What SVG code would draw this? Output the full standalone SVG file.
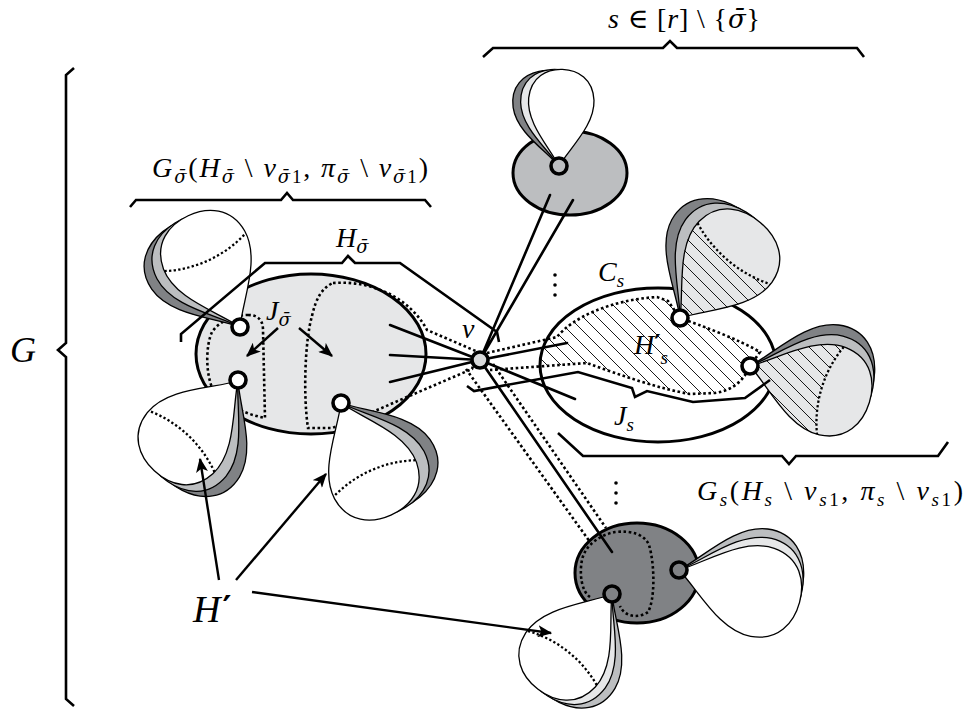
<svg xmlns="http://www.w3.org/2000/svg" width="970" height="717" viewBox="0 0 970 717">
<style>
.m{font-family:"Liberation Serif","DejaVu Serif",serif;font-style:italic;fill:#000}
.up{font-style:normal}
.sg{font-family:"DejaVu Serif",serif;font-style:italic}
.pr{font-family:"DejaVu Sans",sans-serif;font-style:normal;font-weight:bold}
.ell{stroke:#000;stroke-width:3}
.pet{stroke:#000;stroke-width:1.3}
.dot{fill:none;stroke:#000;stroke-width:2.6;stroke-dasharray:2.6 2.6}
.pdot{fill:none;stroke:#000;stroke-width:2.3;stroke-dasharray:2.3 2.3}
.edge{fill:none;stroke:#000;stroke-width:2.6;stroke-linecap:round}
.brace{fill:none;stroke:#000;stroke-width:2.6;stroke-linejoin:miter}
.vx{stroke:#000;stroke-width:3.6}
.arr{fill:none;stroke:#000;stroke-width:2.4;marker-end:url(#ah)}
.dk{fill:#808285}.md{fill:#bcbec0}.lt{fill:#e6e7e8}.wh{fill:#fff}
</style>
<defs>
<path id="lobe" vector-effect="non-scaling-stroke" d="M0,0 C20,-12 45,-40 72,-38 C95,-36 104,-18 104,0 C104,18 95,36 72,38 C45,40 20,12 0,0 Z"/>
<path id="lat" vector-effect="non-scaling-stroke" d="M70,-38 C60,-14 60,14 70,38"/>
<path id="near" d="M0,0 C20,-12 45,-40 70,-38 C60,-14 60,14 70,38 C45,40 20,12 0,0 Z"/>
<pattern id="hL" patternUnits="userSpaceOnUse" width="13" height="13"><path d="M0,13 L13,0 M-3,3 L3,-3 M10,16 L16,10" stroke="#000" stroke-width="0.9"/></pattern>
<pattern id="hR" patternUnits="userSpaceOnUse" width="14" height="14"><path d="M0,0 L14,14 M-3,11 L3,17 M11,-3 L17,3" stroke="#000" stroke-width="0.9"/></pattern>
<clipPath id="cRE"><ellipse cx="658" cy="365" rx="118" ry="77"/></clipPath>
<clipPath id="cE"><use href="#near" transform="translate(680,318) rotate(-50) scale(1.2,1.25)"/></clipPath>
<clipPath id="cF"><use href="#near" transform="translate(750,366) rotate(17) scale(1.2)"/></clipPath>
<marker id="ah" viewBox="0 0 12 10" refX="11" refY="5" markerWidth="6" markerHeight="5" orient="auto" markerUnits="strokeWidth"><path d="M0,0 L12,5 L0,10 L3,5 Z" fill="#000"/></marker>
</defs>
<rect width="970" height="717" fill="#fff"/>

<g id="ellipses">
  <g id="comp-left"><ellipse cx="311" cy="354" rx="115" ry="80" class="ell lt"/></g>
  <g id="comp-right"><ellipse cx="658" cy="365" rx="118" ry="77" class="ell wh"/></g>
  <g id="comp-top"><ellipse cx="570" cy="173" rx="57" ry="42" class="ell md"/></g>
  <g id="comp-bottom"><ellipse cx="637" cy="573" rx="62" ry="50" class="ell dk"/></g>
</g>

<g id="regions">
  <g id="J-sigma-left">
    <path d="M248,315 C258,315 263,320 263,330 L265,418 C245,414 225,405 213,390 C205,372 206,345 212,332 C220,320 236,315 248,315 Z" fill="url(#hL)" class="dot"/>
  </g>
  <g id="J-sigma-right">
    <path d="M333,283 C372,280 410,298 427,330 L478,352 L472,369 L400,400 L352,421 L332,428 L308,428 C303,395 305,340 312,316 C316,298 322,288 333,283 Z" fill="url(#hL)" class="dot"/>
  </g>
  <g id="H-prime-s">
    <path d="M487,353 L557,337 C572,318 610,300 657,297 L668,301 L680,318 C700,325 740,340 760,352 L750,366 C745,378 735,390 715,393 L690,394 C660,389 620,375 587,363 L490,370 Z" fill="url(#hR)" clip-path="url(#cRE)"/>
    <path d="M487,353 L557,337 C572,318 610,300 657,297 L668,301 L680,318 C700,325 740,340 760,352 L750,366 C745,378 735,390 715,393 L690,394 C660,389 620,375 587,363 L490,370" class="dot"/>
  </g>
  <g id="J-bottom">
    <path d="M590,597 C582,592 579,575 582,560 C585,545 600,535 615,532 C632,530 645,535 649,545 C655,565 655,600 648,612 C640,618 625,618 620,606" class="dot"/>
  </g>
</g>

<g id="petals">
  <g id="petal-a" transform="translate(240,327)">
    <use href="#lobe" class="pet dk" transform="rotate(-129) scale(1.18)"/>
    <use href="#lobe" class="pet md" transform="rotate(-122) scale(1.18)"/>
    <use href="#lobe" class="pet wh" transform="rotate(-115) scale(1.18)"/>
    <use href="#lat" class="pdot" transform="rotate(-115) scale(1.18)"/>
  </g>
  <g id="petal-b" transform="translate(238,381)">
    <use href="#lobe" class="pet dk" transform="rotate(117) scale(1.18)"/>
    <use href="#lobe" class="pet md" transform="rotate(125) scale(1.18)"/>
    <use href="#lobe" class="pet wh" transform="rotate(133) scale(1.18)"/>
    <use href="#lat" class="pdot" transform="rotate(133) scale(1.18)"/>
  </g>
  <g id="petal-c" transform="translate(341,403)">
    <use href="#lobe" class="pet dk" transform="rotate(50) scale(1.18)"/>
    <use href="#lobe" class="pet md" transform="rotate(58) scale(1.18)"/>
    <use href="#lobe" class="pet wh" transform="rotate(66) scale(1.18)"/>
    <use href="#lat" class="pdot" transform="rotate(66) scale(1.18)"/>
  </g>
  <g id="petal-d" transform="translate(559,166)">
    <use href="#lobe" class="pet dk" transform="rotate(-102) scale(0.93,0.86)"/>
    <use href="#lobe" class="pet lt" transform="rotate(-95) scale(0.93,0.86)"/>
    <use href="#lobe" class="pet wh" transform="rotate(-88) scale(0.93,0.86)"/>
  </g>
  <g id="petal-e">
    <g transform="translate(680,318)">
      <use href="#lobe" class="pet dk" transform="rotate(-66) scale(1.2,1.25)"/>
      <use href="#lobe" class="pet md" transform="rotate(-58) scale(1.2,1.25)"/>
      <use href="#lobe" class="pet lt" transform="rotate(-50) scale(1.2,1.25)"/>
    </g>
    <rect x="660" y="200" width="130" height="130" fill="url(#hR)" clip-path="url(#cE)"/>
    <use href="#lat" class="pdot" transform="translate(680,318) rotate(-50) scale(1.2,1.25)"/>
  </g>
  <g id="petal-f">
    <g transform="translate(750,366)">
      <use href="#lobe" class="pet dk" transform="rotate(3) scale(1.2)"/>
      <use href="#lobe" class="pet md" transform="rotate(10) scale(1.2)"/>
      <use href="#lobe" class="pet lt" transform="rotate(17) scale(1.2)"/>
    </g>
    <rect x="740" y="300" width="140" height="150" fill="url(#hR)" clip-path="url(#cF)"/>
    <use href="#lat" class="pdot" transform="translate(750,366) rotate(17) scale(1.2)"/>
  </g>
  <g id="petal-g" transform="translate(679,570)">
    <use href="#lobe" class="pet md" transform="rotate(3) scale(1.2)"/>
    <use href="#lobe" class="pet lt" transform="rotate(9) scale(1.2)"/>
    <use href="#lobe" class="pet wh" transform="rotate(15) scale(1.2)"/>
  </g>
  <g id="petal-h" transform="translate(612,594)">
    <use href="#lobe" class="pet md" transform="rotate(116) scale(1.16)"/>
    <use href="#lobe" class="pet lt" transform="rotate(122) scale(1.16)"/>
    <use href="#lobe" class="pet wh" transform="rotate(128) scale(1.16)"/>
    <use href="#lat" class="pdot" transform="rotate(128) scale(1.16)"/>
  </g>
</g>

<g id="connectors">
  <path class="edge" d="M480,360 L390,325 M480,360 L390,355 M480,360 L390,382"/>
  <path class="edge" d="M480,360 L567,343 M480,360 L575,399"/>
  <path class="edge" d="M480,360 L550,195 M480,360 L573,200"/>
  <path class="edge" d="M480,360 L612,552"/>
  <path class="dot" d="M466,369 L590,542 M493,364 L606,528"/>
  <path class="arr" d="M278,328 L247,356"/>
  <path class="arr" d="M299,328 L332,356"/>
  <path class="arr" d="M219,580 L200,459"/>
  <path class="arr" d="M236,580 L326,474"/>
  <path class="arr" d="M252,592 L551,633"/>
</g>

<g id="braces">
  <path class="brace" d="M74,68 L66,75 L66,343 L58,350 L66,357 L66,699 L74,706"/>
  <path class="brace" d="M483,57 L493,48 L663,48 L670,41 L677,48 L857,48 L864,57"/>
  <path class="brace" d="M130,207 L136,200 L281,200 L287,193 L293,200 L425,200 L431,207"/>
  <path class="brace" d="M181,342 L181,334 L265,263 L342,263 L348,256 L355,263 L400,263 L497,332 L499,342"/>
  <path class="brace" d="M467,386 L474,391 L578,372 L632,388 L635,397 L647,391 L693,402 L745,398 L770,380"/>
  <path class="brace" d="M558,433 L583,456 L782,456 L789,464 L796,456 L938,456 L948,442"/>
</g>

<g id="vertices">
  <circle id="v-s1" cx="240" cy="327" r="8" class="vx wh"/>
  <circle id="v-s2" cx="238" cy="380" r="8" class="vx wh"/>
  <circle id="v-s3" cx="341" cy="403" r="8" class="vx wh"/>
  <circle id="v" cx="480" cy="360" r="8" class="vx" fill="#d9dadb"/>
  <circle id="v-top" cx="559" cy="166" r="8" class="vx md"/>
  <circle id="v-e" cx="680" cy="318" r="8" class="vx wh"/>
  <circle id="v-f" cx="750" cy="366" r="8" class="vx wh"/>
  <circle id="v-g" cx="679" cy="570" r="8" class="vx dk"/>
  <circle id="v-h" cx="612" cy="594" r="8" class="vx dk"/>
  <g id="dots" fill="#000">
    <circle cx="555" cy="275" r="1.8"/><circle cx="555" cy="285" r="1.8"/><circle cx="555" cy="295" r="1.8"/>
    <circle cx="616" cy="483" r="1.8"/><circle cx="616" cy="493" r="1.8"/><circle cx="616" cy="503" r="1.8"/>
  </g>
</g>

<g id="labels">
  <text class="m" x="608" y="28" font-size="28" textLength="152">s<tspan class="up"> ∈ [</tspan>r<tspan class="up">] \ {</tspan><tspan class="sg" font-size="26">σ̄</tspan><tspan class="up">}</tspan></text>
  <text class="m" x="152" y="177" font-size="28" textLength="276">G<tspan class="sg" font-size="18" dy="6">σ̄</tspan><tspan class="up" dy="-6">(</tspan>H<tspan class="sg" font-size="18" dy="6">σ̄</tspan><tspan class="up" dy="-6"> \ </tspan>v<tspan dy="6"><tspan class="sg" font-size="18">σ̄</tspan><tspan class="up" font-size="19">1</tspan></tspan><tspan class="up" dy="-6">, </tspan>π<tspan class="sg" font-size="18" dy="6">σ̄</tspan><tspan class="up" dy="-6"> \ </tspan>v<tspan dy="6"><tspan class="sg" font-size="18">σ̄</tspan><tspan class="up" font-size="19">1</tspan></tspan><tspan class="up" dy="-6">)</tspan></text>
  <text class="m" x="336" y="247" font-size="28">H<tspan class="sg" font-size="18" dy="6">σ̄</tspan></text>
  <text class="m" x="266" y="320" font-size="28">J<tspan class="sg" font-size="18" dy="6">σ̄</tspan></text>
  <text class="m" x="462" y="338" font-size="28">v</text>
  <text class="m" x="598" y="281" font-size="28">C<tspan font-size="19" dy="6">s</tspan></text>
  <text class="m" x="634" y="354" font-size="28">H<tspan class="pr" font-size="24" dy="-2">′</tspan><tspan font-size="19" dy="12">s</tspan></text>
  <text class="m" x="614" y="425" font-size="28">J<tspan font-size="19" dy="6">s</tspan></text>
  <text class="m" x="697" y="500" font-size="28" textLength="266">G<tspan font-size="19" dy="6">s</tspan><tspan class="up" dy="-6">(</tspan>H<tspan font-size="19" dy="6">s</tspan><tspan class="up" dy="-6"> \ </tspan>v<tspan font-size="19" dy="6">s<tspan class="up">1</tspan></tspan><tspan class="up" dy="-6">, </tspan>π<tspan font-size="19" dy="6">s</tspan><tspan class="up" dy="-6"> \ </tspan>v<tspan font-size="19" dy="6">s<tspan class="up">1</tspan></tspan><tspan class="up" dy="-6">)</tspan></text>
  <text class="m" x="193" y="622" font-size="38">H<tspan class="pr" font-size="34" dx="2" dy="-2">′</tspan></text>
  <text class="m" x="10" y="362" font-size="36">G</text>
</g>
</svg>
